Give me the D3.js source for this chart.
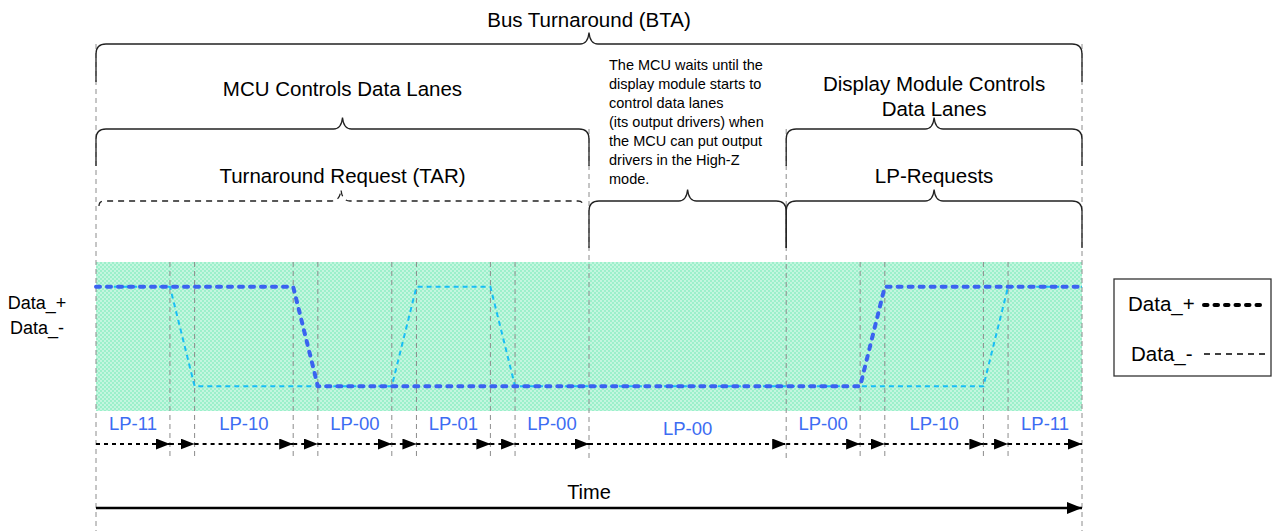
<!DOCTYPE html>
<html>
<head>
<meta charset="utf-8">
<script src="https://cdn.jsdelivr.net/npm/d3@7"></script>
<style>
  html, body { margin: 0; padding: 0; background: #fff; }
  svg { display: block; font-family: "Liberation Sans", Arial, sans-serif; }
</style>
</head>
<body>
<svg id="chart" width="1276" height="531"></svg>
<script>
// ---------------- data ----------------
const breakpoints = [0, 3, 4, 8, 9, 12, 13, 16, 17, 20, 28, 31, 32, 36, 37, 40];
const dataPlusT  = [0, 8, 9, 31, 32, 40];
const dataPlusV  = [1, 1, 0, 0, 1, 1];
const dataMinusT = [0, 3, 4, 12, 13, 16, 17, 36, 37, 40];
const dataMinusV = [1, 1, 0, 0, 1, 1, 0, 0, 1, 1];
const lpLabels = ["LP-11", "LP-10", "LP-00", "LP-01", "LP-00", "LP-00", "LP-00", "LP-10", "LP-11"];
const lpStart  = [0, 4, 9, 13, 17, 20, 28, 32, 37];
const lpEnd    = [3, 8, 12, 16, 20, 28, 31, 36, 40];
const braceLabels = ["Bus Turnaround (BTA)", "MCU Controls Data Lanes", "Turnaround Request (TAR)",
                     "", "Display Module Controls|Data Lanes", "LP-Requests"];
const braceStart = [0, 0, 0, 20, 28, 28];
const braceEnd   = [40, 20, 20, 28, 40, 40];
const noteLines = ["The MCU waits until the", "display module starts to", "control data lanes",
                   "(its output drivers) when", "the MCU can put output", "drivers in the High-Z", "mode."];
const seriesNames = ["Data_+", "Data_-"];
const axisTitle = "Time";

// ---------------- layout ----------------
const svg = d3.select("#chart");
const x = d3.scaleLinear().domain([0, 40]).range([96, 1082]);
const y = d3.scaleLinear().domain([-0.25, 1.25]).range([411, 262]);

const defs = svg.append("defs");
const pat = defs.append("pattern").attr("id", "dots").attr("patternUnits", "userSpaceOnUse")
  .attr("width", 4).attr("height", 4);
pat.append("rect").attr("width", 4).attr("height", 4).attr("fill", "#9cf0cb");
pat.append("circle").attr("cx", 1).attr("cy", 1).attr("r", 0.9).attr("fill", "#d6fae9");
pat.append("circle").attr("cx", 3).attr("cy", 3).attr("r", 0.9).attr("fill", "#d6fae9");

function arrowMarker(id, w, h) {
  defs.append("marker").attr("id", id).attr("viewBox", `0 0 ${w} ${h}`)
    .attr("refX", w).attr("refY", h / 2).attr("markerWidth", w).attr("markerHeight", h)
    .attr("markerUnits", "userSpaceOnUse").attr("orient", "auto")
    .append("path").attr("d", `M0,0 L${w},${h / 2} L0,${h} Z`).attr("fill", "#000");
}
arrowMarker("ah", 14, 11);
arrowMarker("ahBig", 15, 12);

// band
svg.append("rect").attr("x", x(0)).attr("y", y(1.25)).attr("width", x(40) - x(0))
  .attr("height", y(-0.25) - y(1.25)).attr("fill", "url(#dots)");

// vertical grid lines
const gridG = svg.append("g").attr("stroke", "#8c8c8c").attr("stroke-width", 1).attr("stroke-dasharray", "5 4");
breakpoints.forEach(t => {
  let y0 = 262, y1 = 460;
  if (t === 0 || t === 40) { y0 = 44; y1 = 531; }
  else if (t === 20 || t === 28) { y0 = 129; y1 = 460; }
  gridG.append("line").attr("x1", x(t)).attr("x2", x(t)).attr("y1", y0).attr("y2", y1);
});

// signals
const line = d3.line().x(d => x(d[0])).y(d => y(d[1]));
svg.append("path").datum(dataMinusT.map((t, i) => [t, dataMinusV[i]]))
  .attr("d", line).attr("fill", "none").attr("stroke", "#19bdf5").attr("stroke-width", 2)
  .attr("stroke-dasharray", "5 4");
svg.append("path").datum(dataPlusT.map((t, i) => [t, dataPlusV[i]]))
  .attr("d", line).attr("fill", "none").attr("stroke", "#3a63f0").attr("stroke-width", 4)
  .attr("stroke-linecap", "round").attr("stroke-linejoin", "round").attr("stroke-dasharray", "4 7");

// side labels
svg.selectAll("text.side").data(seriesNames).join("text").attr("class", "side")
  .attr("x", 37).attr("y", (d, i) => 309 + i * 25).attr("text-anchor", "middle")
  .attr("font-size", 18).attr("fill", "#000").text(d => d);

// LP labels
svg.selectAll("text.lp").data(lpLabels).join("text").attr("class", "lp")
  .attr("x", (d, i) => (x(lpStart[i]) + x(lpEnd[i])) / 2)
  .attr("y", (d, i) => (lpEnd[i] - lpStart[i] > 6 ? 435 : 430))
  .attr("text-anchor", "middle").attr("font-size", 18.5).attr("fill", "#3d6cf2").text(d => d);

// dashed arrows
const segs = d3.pairs(breakpoints);
svg.selectAll("line.seg").data(segs).join("line").attr("class", "seg")
  .attr("x1", d => x(d[0])).attr("x2", d => x(d[1])).attr("y1", 444).attr("y2", 444)
  .attr("stroke", "#000").attr("stroke-width", 2).attr("stroke-dasharray", "4 4")
  .attr("marker-end", "url(#ah)");

// time arrow
svg.append("line").attr("x1", x(0)).attr("x2", x(40)).attr("y1", 508).attr("y2", 508)
  .attr("stroke", "#000").attr("stroke-width", 2.5).attr("marker-end", "url(#ahBig)");
svg.append("text").attr("x", (x(0) + x(40)) / 2).attr("y", 499).attr("text-anchor", "middle")
  .attr("font-size", 20).text(axisTitle);

// braces
function bracePath(x0, x1, yy, r, drop, tipH) {
  const tx = (x0 + x1) / 2;
  return `M${x0},${yy + r + drop} L${x0},${yy + r} Q${x0},${yy} ${x0 + r},${yy} L${tx - 9},${yy} ` +
         `Q${tx - 1},${yy} ${tx},${yy - tipH} Q${tx + 1},${yy} ${tx + 9},${yy} L${x1 - r},${yy} ` +
         `Q${x1},${yy} ${x1},${yy + r} L${x1},${yy + r + drop}`;
}
const braceY    = [44, 129, 201, 201, 129, 201];
const braceDrop = [28, 27, 0, 37, 27, 37];
const braceR    = [10, 10, 5, 10, 10, 10];
const braceTextY = [27, 96, 183, 0, 91, 183];
braceLabels.forEach((lab, i) => {
  let x0 = x(braceStart[i]), x1 = x(braceEnd[i]);
  const dashed = i === 2;
  if (dashed) { x0 += 3; x1 -= 6; }
  svg.append("path").attr("d", bracePath(x0, x1, braceY[i], braceR[i], braceDrop[i], 11.5))
    .attr("fill", "none").attr("stroke", "#222").attr("stroke-width", 1.3)
    .attr("stroke-dasharray", dashed ? "6 5" : null);
  if (lab) {
    const parts = lab.split("|");
    const t = svg.append("text").attr("text-anchor", "middle").attr("font-size", 20.5).attr("fill", "#000");
    parts.forEach((p, k) => t.append("tspan").attr("x", (x(braceStart[i]) + x(braceEnd[i])) / 2)
      .attr("y", braceTextY[i] + k * 25).text(p));
  }
});

// note paragraph
svg.selectAll("text.note").data(noteLines).join("text").attr("class", "note")
  .attr("x", 609).attr("y", (d, i) => 70 + i * 19).attr("font-size", 14.5).attr("fill", "#000").text(d => d);

// legend
const lg = svg.append("g");
lg.append("rect").attr("x", 1114).attr("y", 279).attr("width", 157).attr("height", 97)
  .attr("fill", "#fff").attr("stroke", "#333").attr("stroke-width", 1.3);
lg.append("text").attr("x", 1128).attr("y", 311).attr("font-size", 20.5).text(seriesNames[0]);
lg.append("text").attr("x", 1131).attr("y", 361).attr("font-size", 20.5).text(seriesNames[1]);
lg.append("line").attr("x1", 1204).attr("x2", 1267).attr("y1", 305).attr("y2", 305)
  .attr("stroke", "#000").attr("stroke-width", 4).attr("stroke-linecap", "round").attr("stroke-dasharray", "3.5 7");
lg.append("line").attr("x1", 1204).attr("x2", 1267).attr("y1", 354).attr("y2", 354)
  .attr("stroke", "#000").attr("stroke-width", 1.5).attr("stroke-dasharray", "6 5");
</script>
</body>
</html>
